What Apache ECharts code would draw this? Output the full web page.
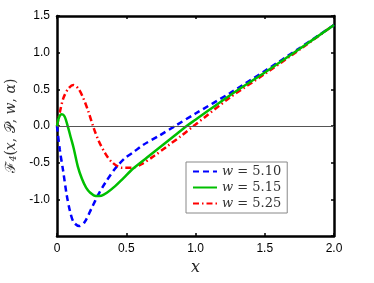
<!DOCTYPE html>
<html>
<head>
<meta charset="utf-8">
<script src="https://cdn.jsdelivr.net/npm/echarts@6/dist/echarts.min.js"></script>
<style>html,body{margin:0;padding:0;background:#fff}#c{width:374px;height:283px}</style>
</head>
<body>
<div id="c"></div>
<script>
var seriesNames = ['5.10', '5.15', '5.25'];
var xTickLabels = ['0', '0.5', '1.0', '1.5', '2.0'];

var blueX = [0,0.02,0.045,0.07,0.095,0.12,0.16,0.2,0.25,0.3,0.35,0.42,0.49,0.55,0.62,0.74,0.852,1.0,1.25,1.5,1.75,2.0];
var blueY = [0,-0.32,-0.62,-0.94,-1.17,-1.31,-1.365,-1.31,-1.12,-0.93,-0.77,-0.58,-0.44,-0.36,-0.26,-0.13,0,0.17,0.45,0.75,1.06,1.378];

var greenX = [0,0.015,0.034,0.055,0.08,0.1,0.12,0.15,0.18,0.21,0.24,0.28,0.32,0.36,0.42,0.48,0.55,0.65,0.75,0.85,0.936,1.0,1.25,1.5,1.75,2.0];
var greenY = [0,0.12,0.16,0.13,-0.02,-0.16,-0.3,-0.55,-0.72,-0.84,-0.91,-0.955,-0.95,-0.91,-0.82,-0.71,-0.58,-0.43,-0.28,-0.13,0,0.085,0.42,0.73,1.05,1.378];

var redX = [0,0.022,0.046,0.082,0.118,0.154,0.19,0.226,0.262,0.298,0.347,0.395,0.467,0.539,0.61,0.7,0.8,0.9,0.985,1.0,1.25,1.5,1.75,2.0];
var redY = [0,0.2,0.38,0.51,0.56,0.51,0.38,0.2,-0.01,-0.19,-0.37,-0.49,-0.57,-0.57,-0.52,-0.41,-0.27,-0.13,0,0.02,0.39,0.71,1.04,1.378];

function zip(xs, ys) { return xs.map(function (x, i) { return [x, ys[i]]; }); }

var chart = echarts.init(document.getElementById('c'), null, {renderer: 'canvas'});
var tickFont = {fontFamily: 'Liberation Sans', fontSize: 12, color: '#000'};
var axisLine = {show: true, onZero: false, lineStyle: {color: '#000', width: 2.5}};
var axisTick = {show: true, inside: true, length: 3, lineStyle: {color: '#000', width: 1.5}};

function xlab(v) {
  var idx = Math.round(v / 0.5);
  return xTickLabels[idx] !== undefined ? xTickLabels[idx] : '';
}

chart.setOption({
  animation: false,
  backgroundColor: '#fff',
  grid: {left: 57, right: 40, top: 16, bottom: 47, containLabel: false, outerBoundsMode: 'none'},
  xAxis: [
    {type: 'value', min: 0, max: 2, interval: 0.5, position: 'bottom',
     axisLine: axisLine, axisTick: axisTick, splitLine: {show: false},
     axisLabel: Object.assign({margin: 7, formatter: xlab}, tickFont),
     name: '{i|x}', nameLocation: 'middle', nameGap: 18,
     nameTextStyle: {rich: {i: {fontFamily: 'DejaVu Serif', fontStyle: 'italic', fontSize: 16, color: '#222'}}}},
    {type: 'value', min: 0, max: 2, interval: 0.5, position: 'top',
     axisLine: axisLine, axisTick: axisTick, splitLine: {show: false}, axisLabel: {show: false}}
  ],
  yAxis: [
    {type: 'value', min: -1.5, max: 1.5, interval: 0.5, position: 'left',
     axisLine: axisLine, axisTick: axisTick, splitLine: {show: false},
     axisLabel: Object.assign({margin: 7, showMinLabel: false, formatter: function (v) { return v.toFixed(1); }}, tickFont),
     name: '{f|ℱ}{s|4}{p|(}{i|x}{p|, }{f|𝒫}{p|, }{i|w}{p|, }{i|α}{p|)}', nameLocation: 'middle', nameGap: 30,
     nameTextStyle: {rich: {
       f: {fontFamily: 'DejaVu Serif', fontSize: 14, color: '#333'},
       s: {fontFamily: 'DejaVu Serif', fontStyle: 'italic', fontSize: 9, color: '#333', verticalAlign: 'bottom', padding: [6, 0, 0, 0]},
       p: {fontFamily: 'DejaVu Serif', fontSize: 14, color: '#333'},
       i: {fontFamily: 'DejaVu Serif', fontStyle: 'italic', fontSize: 14, color: '#333'}
     }}},
    {type: 'value', min: -1.5, max: 1.5, interval: 0.5, position: 'right',
     axisLine: axisLine, axisTick: axisTick, splitLine: {show: false}, axisLabel: {show: false}}
  ],
  legend: {
    orient: 'vertical', left: 186, top: 162,
    backgroundColor: '#fff', borderColor: '#888', borderWidth: 1,
    padding: [3, 6, 3, 6], itemGap: 3, itemWidth: 24, itemHeight: 12,
    itemStyle: {opacity: 0, borderWidth: 0},
    data: seriesNames.map(function (n) { return 'w = ' + n; }),
    formatter: function (name) { return '{i|w}{n| = ' + name.slice(4) + '}'; },
    textStyle: {rich: {
      i: {fontFamily: 'DejaVu Serif', fontStyle: 'italic', fontSize: 13, color: '#333'},
      n: {fontFamily: 'DejaVu Serif', fontSize: 13, color: '#333'}
    }}
  },
  series: [
    {name: 'w = ' + seriesNames[0], type: 'line', data: zip(blueX, blueY), smooth: 0.3, symbol: 'none', z: 3,
     lineStyle: {color: '#0000ff', width: 2.5, type: [6, 4]}, itemStyle: {color: '#0000ff'},
     markLine: {silent: true, symbol: 'none', label: {show: false}, animation: false,
       lineStyle: {color: '#555', width: 1, type: 'solid'}, data: [{yAxis: 0}]}},
    {name: 'w = ' + seriesNames[1], type: 'line', data: zip(greenX, greenY), smooth: 0.3, symbol: 'none', z: 4,
     lineStyle: {color: '#00bf00', width: 2.5, type: 'solid'}, itemStyle: {color: '#00bf00'}},
    {name: 'w = ' + seriesNames[2], type: 'line', data: zip(redX, redY), smooth: 0.3, symbol: 'none', z: 2,
     lineStyle: {color: '#ff0000', width: 2.5, type: [6, 3, 1.5, 3]}, itemStyle: {color: '#ff0000'}}
  ]
});
</script>
</body>
</html>
